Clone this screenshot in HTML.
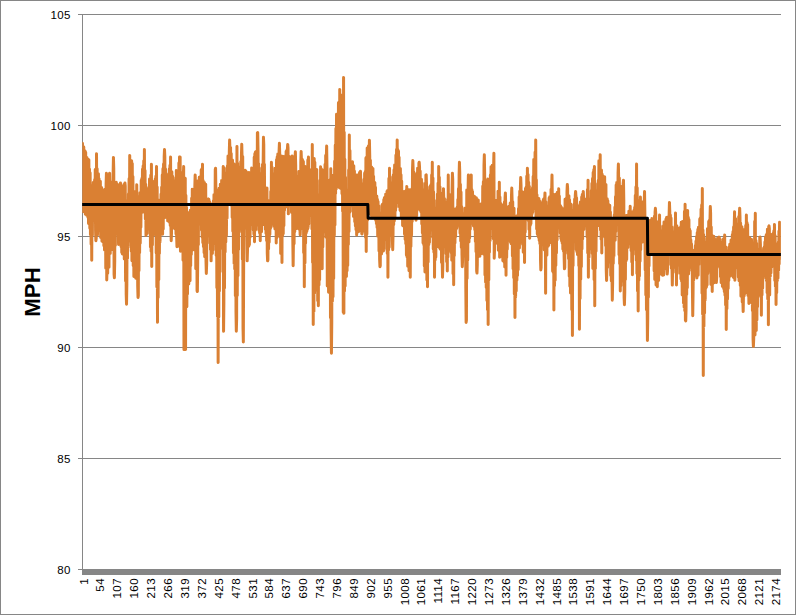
<!DOCTYPE html>
<html><head><meta charset="utf-8"><title>MPH chart</title>
<style>
html,body{margin:0;padding:0;background:#fff;}
body{width:796px;height:615px;overflow:hidden;position:relative;font-family:"Liberation Sans",sans-serif;}
#frame{position:absolute;left:0;top:0;width:794px;height:613px;border:1px solid #868686;}
svg{position:absolute;left:0;top:0;}
.yl{position:absolute;right:725.2px;width:60px;text-align:right;font-size:11.5px;letter-spacing:0.35px;line-height:14px;height:14px;color:#000;}
.xl{position:absolute;font-size:11.5px;letter-spacing:0.42px;line-height:14px;height:14px;white-space:nowrap;color:#000;transform-origin:0 0;transform:rotate(-90deg);text-align:right;width:40px;}
#title{position:absolute;font-weight:bold;font-size:22.3px;line-height:24px;height:24px;white-space:nowrap;color:#000;transform-origin:0 0;transform:rotate(-90deg);width:80px;text-align:center;}
</style></head><body>
<div id="frame"></div>
<svg width="796" height="615" viewBox="0 0 796 615">

<rect x="78" y="14" width="703" height="1" fill="#868686"/>
<rect x="78" y="125" width="703" height="1" fill="#868686"/>
<rect x="78" y="236" width="703" height="1" fill="#868686"/>
<rect x="78" y="347" width="703" height="1" fill="#868686"/>
<rect x="78" y="458" width="703" height="1" fill="#868686"/>
<rect x="78" y="569" width="703" height="1" fill="#868686"/>
<rect x="82" y="14" width="1" height="556" fill="#868686"/>
<rect x="82" y="569" width="699" height="6" fill="#868686"/>
<clipPath id="cp"><rect x="82.3" y="0" width="698.6" height="615"/></clipPath>
<polyline clip-path="url(#cp)" points="82.16,211.51 82.48,143.21 82.80,211.72 83.12,146.31 83.44,207.65 83.76,147.10 84.07,207.38 84.39,150.31 84.71,208.87 85.03,150.88 85.35,214.13 85.67,152.23 85.99,206.70 86.31,158.38 86.63,215.25 86.95,157.52 87.27,209.64 87.59,166.95 87.90,217.16 88.22,159.57 88.54,223.40 88.86,159.81 89.18,224.41 89.50,169.01 89.82,228.24 90.14,172.82 90.46,234.74 90.78,187.35 91.10,244.27 91.42,190.54 91.73,260.23 92.05,189.31 92.37,235.34 92.69,185.41 93.01,220.73 93.33,182.60 93.65,214.70 93.97,182.16 94.29,215.12 94.61,179.71 94.93,220.80 95.25,169.59 95.57,230.23 95.88,240.78 96.20,238.63 96.52,153.78 96.84,222.22 97.16,168.76 97.48,234.92 97.80,177.97 98.12,230.89 98.44,173.75 98.76,223.90 99.08,178.69 99.40,228.69 99.71,181.87 100.03,227.08 100.35,181.31 100.67,237.53 100.99,189.35 101.31,237.48 101.63,187.54 101.95,241.23 102.27,193.58 102.59,240.97 102.91,191.39 103.23,242.08 103.54,202.14 103.86,245.70 104.18,190.28 104.50,250.07 104.82,189.34 105.14,250.37 105.46,203.11 105.78,268.33 106.10,184.29 106.42,173.23 106.74,279.90 107.06,265.90 107.37,174.85 107.69,273.16 108.01,177.64 108.33,257.91 108.65,179.41 108.97,267.13 109.29,178.60 109.61,173.23 109.93,189.04 110.25,253.53 110.57,186.55 110.89,240.80 111.20,189.08 111.52,245.19 111.84,194.76 112.16,249.40 112.48,182.08 112.80,246.33 113.12,174.14 113.44,157.38 113.76,168.43 114.08,274.32 114.40,277.78 114.72,261.45 115.03,189.98 115.35,245.44 115.67,184.33 115.99,231.71 116.31,182.26 116.63,232.63 116.95,187.85 117.27,231.08 117.59,185.89 117.91,234.25 118.23,184.85 118.55,244.45 118.87,186.26 119.18,239.39 119.50,190.94 119.82,242.88 120.14,192.42 120.46,182.96 120.78,187.49 121.10,246.73 121.42,190.28 121.74,252.51 122.06,185.91 122.38,254.09 122.70,189.41 123.01,254.13 123.33,187.33 123.65,251.54 123.97,184.62 124.29,259.08 124.61,188.73 124.93,182.96 125.25,186.11 125.57,280.94 125.89,200.50 126.21,294.53 126.53,304.21 126.84,284.16 127.16,211.21 127.48,258.53 127.80,221.62 128.12,246.89 128.44,193.95 128.76,234.78 129.08,178.87 129.40,233.96 129.72,155.47 130.04,240.97 130.36,161.97 130.67,227.61 130.99,161.85 131.31,251.16 131.63,160.66 131.95,260.81 132.27,163.40 132.59,241.72 132.91,176.47 133.23,265.72 133.55,191.55 133.87,276.50 134.19,197.55 134.50,270.80 134.82,202.52 135.14,264.34 135.46,191.61 135.78,278.19 136.10,192.89 136.42,274.26 136.74,184.86 137.06,278.04 137.38,204.13 137.70,285.90 138.02,297.44 138.33,295.62 138.65,205.09 138.97,270.78 139.29,196.48 139.61,252.79 139.93,192.77 140.25,243.17 140.57,193.37 140.89,227.30 141.21,180.60 141.53,211.22 141.85,178.62 142.17,212.37 142.48,169.26 142.80,208.00 143.12,165.94 143.44,204.11 143.76,160.88 144.08,200.76 144.40,149.55 144.72,212.53 145.04,170.49 145.36,218.87 145.68,184.13 146.00,235.50 146.31,187.36 146.63,226.90 146.95,188.63 147.27,233.61 147.59,189.91 147.91,229.16 148.23,191.99 148.55,228.16 148.87,189.59 149.19,228.67 149.51,178.92 149.83,228.12 150.14,183.96 150.46,247.10 150.78,175.16 151.10,251.28 151.42,164.35 151.74,266.58 152.06,180.96 152.38,245.03 152.70,186.92 153.02,234.92 153.34,181.86 153.66,231.00 153.97,187.96 154.29,229.47 154.61,182.02 154.93,226.06 155.25,178.89 155.57,234.91 155.89,176.34 156.21,253.00 156.53,166.47 156.85,287.01 157.17,187.05 157.49,322.18 157.80,199.65 158.12,297.41 158.44,209.55 158.76,279.84 159.08,210.23 159.40,253.57 159.72,211.24 160.04,241.89 160.36,200.04 160.68,233.14 161.00,194.23 161.32,229.38 161.63,187.37 161.95,230.53 162.27,174.93 162.59,234.35 162.91,168.86 163.23,229.09 163.55,164.10 163.87,215.95 164.19,156.64 164.51,149.55 164.83,156.71 165.15,217.50 165.47,168.80 165.78,214.91 166.10,173.46 166.42,210.70 166.74,177.19 167.06,215.13 167.38,178.16 167.70,220.87 168.02,175.75 168.34,221.27 168.66,174.77 168.98,215.50 169.30,168.91 169.61,222.42 169.93,165.48 170.25,225.50 170.57,156.95 170.89,224.85 171.21,240.78 171.53,232.07 171.85,171.75 172.17,220.05 172.49,175.95 172.81,228.25 173.13,188.71 173.44,225.17 173.76,184.56 174.08,217.31 174.40,187.18 174.72,227.93 175.04,180.69 175.36,229.36 175.68,177.84 176.00,233.95 176.32,170.39 176.64,235.95 176.96,246.70 177.27,240.06 177.59,179.72 177.91,234.03 178.23,171.59 178.55,236.22 178.87,163.06 179.19,221.69 179.51,156.95 179.83,246.92 180.15,156.95 180.47,251.35 180.79,174.40 181.10,236.40 181.42,175.61 181.74,247.05 182.06,181.60 182.38,244.28 182.70,172.55 183.02,260.24 183.34,176.33 183.66,166.47 183.98,349.50 184.30,331.42 184.62,179.51 184.93,333.92 185.25,178.13 185.57,349.50 185.89,195.52 186.21,290.97 186.53,207.23 186.85,306.77 187.17,229.57 187.49,294.11 187.81,214.53 188.13,272.88 188.45,213.76 188.77,284.05 189.08,212.62 189.40,269.10 189.72,214.70 190.04,280.76 190.36,210.20 190.68,265.69 191.00,212.38 191.32,254.42 191.64,198.26 191.96,250.51 192.28,189.30 192.60,244.10 192.91,190.37 193.23,234.29 193.55,189.30 193.87,247.32 194.19,190.60 194.51,249.96 194.83,186.49 195.15,174.92 195.47,183.04 195.79,268.79 196.11,181.17 196.43,260.08 196.74,188.24 197.06,290.87 197.38,291.52 197.70,262.61 198.02,181.12 198.34,244.74 198.66,180.41 198.98,223.62 199.30,177.18 199.62,221.06 199.94,178.06 200.26,223.94 200.57,176.65 200.89,223.86 201.21,170.10 201.53,230.26 201.85,169.01 202.17,237.31 202.49,164.35 202.81,242.63 203.13,180.51 203.45,246.84 203.77,184.18 204.09,252.77 204.40,182.60 204.72,256.81 205.04,190.16 205.36,249.04 205.68,184.13 206.00,260.80 206.32,273.55 206.64,264.15 206.96,206.10 207.28,243.36 207.60,199.33 207.92,234.80 208.23,199.00 208.55,227.74 208.87,199.19 209.19,232.49 209.51,201.59 209.83,236.11 210.15,207.31 210.47,249.55 210.79,210.26 211.11,260.87 211.43,212.43 211.75,251.57 212.07,209.08 212.38,253.42 212.70,203.28 213.02,249.98 213.34,201.07 213.66,243.54 213.98,194.79 214.30,240.45 214.62,196.84 214.94,229.36 215.26,169.63 215.58,168.16 215.90,192.06 216.21,255.58 216.53,191.46 216.85,287.86 217.17,190.37 217.49,316.55 217.81,194.06 218.13,362.50 218.45,209.64 218.77,316.97 219.09,188.36 219.41,291.03 219.73,191.39 220.04,271.81 220.36,184.22 220.68,248.67 221.00,184.70 221.32,223.79 221.64,180.44 221.96,228.18 222.28,181.79 222.60,245.53 222.92,190.34 223.24,166.47 223.56,331.20 223.87,302.81 224.19,168.10 224.51,288.03 224.83,183.87 225.15,252.05 225.47,173.12 225.79,241.91 226.11,175.09 226.43,235.59 226.75,177.53 227.07,218.15 227.39,165.95 227.70,199.15 228.02,156.00 228.34,201.59 228.66,160.21 228.98,194.49 229.30,151.90 229.62,140.04 229.94,149.13 230.26,204.65 230.58,147.58 230.90,201.22 231.22,153.43 231.53,204.84 231.85,160.45 232.17,217.59 232.49,159.98 232.81,231.27 233.13,169.20 233.45,252.94 233.77,163.76 234.09,263.55 234.41,183.14 234.73,268.91 235.05,165.36 235.37,295.70 235.68,164.54 236.00,312.33 236.32,331.20 236.64,318.66 236.96,146.38 237.28,295.62 237.60,163.35 237.92,275.82 238.24,189.88 238.56,249.54 238.88,166.94 239.20,231.92 239.51,171.02 239.83,229.26 240.15,175.70 240.47,216.02 240.79,161.63 241.11,208.44 241.43,155.64 241.75,144.27 242.07,157.57 242.39,259.26 242.71,156.56 243.03,328.53 243.34,342.00 243.66,262.70 243.98,177.00 244.30,209.63 244.62,172.10 244.94,205.80 245.26,170.15 245.58,215.08 245.90,170.89 246.22,228.30 246.54,173.75 246.86,228.30 247.17,260.87 247.49,251.03 247.81,172.63 248.13,245.94 248.45,190.88 248.77,246.24 249.09,172.61 249.41,244.67 249.73,187.45 250.05,237.29 250.37,177.67 250.69,224.55 251.00,173.95 251.32,220.20 251.64,167.95 251.96,220.11 252.28,171.63 252.60,219.88 252.92,169.99 253.24,229.93 253.56,176.12 253.88,234.27 254.20,157.24 254.52,241.84 254.83,153.78 255.15,230.47 255.47,152.10 255.79,229.62 256.11,151.60 256.43,225.12 256.75,156.58 257.07,215.29 257.39,132.82 257.71,132.64 258.03,150.25 258.35,221.67 258.67,163.71 258.98,230.41 259.30,173.31 259.62,233.07 259.94,185.98 260.26,240.78 260.58,181.98 260.90,231.88 261.22,180.00 261.54,231.64 261.86,167.96 262.18,218.03 262.50,164.57 262.81,222.50 263.13,165.43 263.45,137.29 263.77,144.43 264.09,224.65 264.41,164.22 264.73,221.08 265.05,187.86 265.37,229.37 265.69,190.54 266.01,233.61 266.33,194.27 266.64,240.68 266.96,188.07 267.28,253.47 267.60,260.87 267.92,260.02 268.24,200.46 268.56,248.93 268.88,207.29 269.20,242.15 269.52,208.52 269.84,234.48 270.16,208.12 270.47,228.44 270.79,191.52 271.11,226.91 271.43,162.24 271.75,222.07 272.07,167.17 272.39,222.23 272.71,173.48 273.03,218.98 273.35,174.66 273.67,224.32 273.99,177.20 274.30,226.53 274.62,185.45 274.94,229.08 275.26,168.37 275.58,217.35 275.90,177.54 276.22,242.90 276.54,159.86 276.86,237.68 277.18,157.09 277.50,234.41 277.82,154.09 278.13,233.42 278.45,154.85 278.77,215.36 279.09,151.01 279.41,143.21 279.73,153.74 280.05,236.94 280.37,155.28 280.69,253.55 281.01,158.69 281.33,253.35 281.65,158.53 281.97,262.50 282.28,157.18 282.60,235.44 282.92,156.33 283.24,233.72 283.56,160.08 283.88,225.68 284.20,160.92 284.52,210.14 284.84,158.58 285.16,197.86 285.48,155.93 285.80,207.08 286.11,151.55 286.43,200.00 286.75,150.43 287.07,204.79 287.39,149.04 287.71,144.44 288.03,147.89 288.35,213.87 288.67,159.84 288.99,206.01 289.31,163.59 289.63,205.37 289.94,156.76 290.26,205.50 290.58,157.97 290.90,200.07 291.22,157.32 291.54,212.53 291.86,160.31 292.18,156.07 292.50,168.07 292.82,241.21 293.14,265.67 293.46,241.32 293.77,175.83 294.09,243.64 294.41,184.13 294.73,231.77 295.05,157.29 295.37,151.84 295.69,165.14 296.01,224.49 296.33,176.15 296.65,228.54 296.97,177.87 297.29,222.35 297.60,177.61 297.92,225.87 298.24,176.79 298.56,228.83 298.88,171.60 299.20,229.22 299.52,174.20 299.84,225.24 300.16,235.01 300.48,226.00 300.80,162.47 301.12,151.42 301.43,159.41 301.75,216.16 302.07,159.02 302.39,226.54 302.71,160.25 303.03,229.01 303.35,161.45 303.67,252.80 303.99,166.24 304.31,286.81 304.63,184.61 304.95,263.09 305.27,166.59 305.58,243.28 305.90,170.96 306.22,233.02 306.54,167.68 306.86,231.19 307.18,173.06 307.50,229.33 307.82,160.07 308.14,227.63 308.46,157.12 308.78,224.01 309.10,169.09 309.41,215.69 309.73,178.31 310.05,205.87 310.37,183.02 310.69,201.95 311.01,176.65 311.33,207.36 311.65,170.31 311.97,229.07 312.29,144.44 312.61,262.57 312.93,159.46 313.24,324.40 313.56,196.97 313.88,311.55 314.20,158.40 314.52,293.21 314.84,162.31 315.16,276.10 315.48,175.79 315.80,289.94 316.12,206.99 316.44,284.19 316.76,169.44 317.07,286.45 317.39,207.75 317.71,300.80 318.03,199.91 318.35,305.84 318.67,206.34 318.99,285.10 319.31,194.73 319.63,279.76 319.95,180.42 320.27,267.30 320.59,166.64 320.90,263.82 321.22,168.81 321.54,262.11 321.86,169.39 322.18,268.84 322.50,182.98 322.82,247.08 323.14,175.84 323.46,230.14 323.78,170.07 324.10,215.09 324.42,173.07 324.73,221.87 325.05,164.52 325.37,232.04 325.69,155.44 326.01,237.13 326.33,157.23 326.65,145.92 326.97,167.58 327.29,285.91 327.61,180.10 327.93,284.20 328.25,189.31 328.57,292.27 328.88,206.72 329.20,288.37 329.52,186.94 329.84,287.30 330.16,179.72 330.48,317.63 330.80,168.75 331.12,329.26 331.44,353.30 331.76,323.23 332.08,176.00 332.40,301.37 332.71,186.07 333.03,296.68 333.35,175.36 333.67,278.38 333.99,176.80 334.31,235.28 334.63,161.33 334.95,225.09 335.27,145.24 335.59,193.42 335.91,128.61 336.23,188.93 336.54,114.33 336.86,187.02 337.18,119.62 337.50,182.96 337.82,114.66 338.14,182.29 338.46,102.68 338.78,184.78 339.10,102.21 339.42,187.69 339.74,89.47 340.06,183.18 340.37,106.49 340.69,188.44 341.01,95.57 341.33,176.60 341.65,95.13 341.97,193.77 342.29,124.61 342.61,211.35 342.93,120.56 343.25,312.32 343.57,77.42 343.89,313.24 344.20,132.30 344.52,291.04 344.84,159.23 345.16,286.12 345.48,177.17 345.80,269.12 346.12,189.70 346.44,276.51 346.76,202.39 347.08,270.71 347.40,191.39 347.72,265.44 348.03,192.86 348.35,244.51 348.67,169.92 348.99,231.44 349.31,134.92 349.63,212.54 349.95,150.51 350.27,199.00 350.59,162.53 350.91,202.58 351.23,162.34 351.55,196.26 351.87,170.09 352.18,206.10 352.50,161.83 352.82,211.58 353.14,169.69 353.46,216.52 353.78,165.72 354.10,213.58 354.42,171.05 354.74,221.81 355.06,183.75 355.38,226.10 355.70,176.26 356.01,229.78 356.33,177.27 356.65,235.01 356.97,175.00 357.29,228.47 357.61,175.17 357.93,228.60 358.25,176.83 358.57,231.64 358.89,182.15 359.21,229.24 359.53,172.53 359.84,225.10 360.16,176.11 360.48,171.29 360.80,183.30 361.12,230.79 361.44,186.40 361.76,233.75 362.08,233.95 362.40,230.56 362.72,191.74 363.04,226.75 363.36,183.76 363.67,227.67 363.99,179.49 364.31,227.60 364.63,173.27 364.95,231.57 365.27,171.84 365.59,237.38 365.91,158.00 366.23,251.50 366.55,157.13 366.87,234.32 367.19,148.05 367.50,220.20 367.82,154.19 368.14,212.95 368.46,145.99 368.78,211.44 369.10,159.19 369.42,140.21 369.74,155.98 370.06,213.77 370.38,160.13 370.70,204.93 371.02,176.57 371.33,215.79 371.65,167.04 371.97,218.10 372.29,169.76 372.61,207.87 372.93,168.56 373.25,211.26 373.57,176.19 373.89,212.08 374.21,182.01 374.53,218.32 374.85,182.56 375.17,218.27 375.48,187.35 375.80,220.57 376.12,196.99 376.44,223.82 376.76,196.10 377.08,227.59 377.40,199.27 377.72,236.32 378.04,201.60 378.36,236.62 378.68,205.70 379.00,251.02 379.31,213.46 379.63,259.35 379.95,266.72 380.27,265.80 380.59,214.06 380.91,246.75 381.23,213.09 381.55,253.89 381.87,205.40 382.19,249.21 382.51,204.36 382.83,247.01 383.14,203.63 383.46,250.92 383.78,199.69 384.10,249.38 384.42,197.80 384.74,236.38 385.06,197.27 385.38,237.63 385.70,194.13 386.02,238.02 386.34,195.89 386.66,239.77 386.97,191.50 387.29,253.53 387.61,190.50 387.93,277.29 388.25,201.43 388.57,250.00 388.89,178.47 389.21,247.32 389.53,168.16 389.85,233.45 390.17,176.79 390.49,229.07 390.80,182.49 391.12,235.34 391.44,184.15 391.76,235.38 392.08,184.53 392.40,240.47 392.72,249.81 393.04,234.57 393.36,174.88 393.68,224.75 394.00,169.91 394.32,221.11 394.63,165.02 394.95,216.95 395.27,169.37 395.59,210.39 395.91,155.33 396.23,207.19 396.55,149.62 396.87,201.62 397.19,140.04 397.51,196.44 397.83,149.39 398.15,200.52 398.47,150.99 398.78,202.77 399.10,157.27 399.42,207.10 399.74,170.27 400.06,210.26 400.38,168.51 400.70,211.36 401.02,174.69 401.34,217.31 401.66,180.99 401.98,214.71 402.30,196.11 402.61,225.60 402.93,198.40 403.25,226.06 403.57,202.31 403.89,222.75 404.21,191.61 404.53,234.21 404.85,191.73 405.17,239.61 405.49,201.96 405.81,243.78 406.13,190.49 406.44,255.13 406.76,186.55 407.08,256.94 407.40,191.64 407.72,266.28 408.04,192.82 408.36,252.26 408.68,189.75 409.00,270.85 409.32,195.96 409.64,267.05 409.96,189.73 410.27,277.29 410.59,190.10 410.91,246.58 411.23,199.90 411.55,235.23 411.87,189.09 412.19,221.60 412.51,169.67 412.83,160.55 413.15,169.12 413.47,216.88 413.79,172.01 414.10,215.76 414.42,176.41 414.74,211.57 415.06,177.30 415.38,208.33 415.70,181.35 416.02,220.21 416.34,174.58 416.66,215.69 416.98,173.22 417.30,208.62 417.62,168.18 417.93,207.53 418.25,171.82 418.57,207.71 418.89,163.30 419.21,162.24 419.53,166.61 419.85,210.27 420.17,170.90 420.49,206.45 420.81,180.49 421.13,212.37 421.45,179.37 421.77,224.02 422.08,182.72 422.40,232.92 422.72,189.48 423.04,242.87 423.36,196.06 423.68,244.63 424.00,191.01 424.32,266.05 424.64,190.36 424.96,271.95 425.28,183.51 425.60,267.04 425.91,175.08 426.23,174.92 426.55,185.50 426.87,279.89 427.19,196.54 427.51,286.81 427.83,190.87 428.15,261.96 428.47,193.26 428.79,244.82 429.11,196.97 429.43,242.37 429.74,186.90 430.06,225.40 430.38,185.99 430.70,224.98 431.02,184.72 431.34,230.03 431.66,174.92 431.98,226.86 432.30,162.24 432.62,237.35 432.94,178.02 433.26,248.89 433.57,191.85 433.89,252.18 434.21,200.29 434.53,277.29 434.85,217.73 435.17,259.94 435.49,212.24 435.81,257.15 436.13,213.04 436.45,246.40 436.77,208.08 437.09,243.46 437.40,194.13 437.72,246.60 438.04,183.20 438.36,246.25 438.68,166.47 439.00,238.92 439.32,177.21 439.64,248.13 439.96,186.66 440.28,249.19 440.60,193.86 440.92,244.21 441.23,193.26 441.55,262.52 441.87,201.05 442.19,260.21 442.51,277.29 442.83,265.31 443.15,196.73 443.47,188.67 443.79,198.95 444.11,246.01 444.43,198.43 444.75,246.23 445.07,202.14 445.38,246.98 445.70,213.89 446.02,253.83 446.34,220.37 446.66,261.80 446.98,216.14 447.30,270.95 447.62,199.55 447.94,256.98 448.26,174.92 448.58,250.59 448.90,194.85 449.21,240.40 449.53,194.45 449.85,241.72 450.17,199.64 450.49,245.71 450.81,202.82 451.13,252.68 451.45,206.82 451.77,260.34 452.09,190.06 452.41,173.23 452.73,179.22 453.04,273.74 453.36,211.90 453.68,284.69 454.00,209.43 454.32,255.69 454.64,219.07 454.96,243.01 455.28,208.97 455.60,236.81 455.92,213.13 456.24,229.20 456.56,209.96 456.87,227.97 457.19,207.26 457.51,225.58 457.83,199.63 458.15,216.83 458.47,188.84 458.79,222.60 459.11,175.00 459.43,162.24 459.75,172.12 460.07,233.33 460.39,184.25 460.70,241.00 461.02,192.10 461.34,247.39 461.66,206.59 461.98,254.57 462.30,266.72 462.62,259.52 462.94,213.57 463.26,256.21 463.58,219.15 463.90,255.46 464.22,218.83 464.53,248.87 464.85,208.16 465.17,254.97 465.49,208.22 465.81,288.06 466.13,322.40 466.45,319.74 466.77,190.10 467.09,278.58 467.41,198.21 467.73,260.03 468.05,190.89 468.37,174.92 468.68,179.33 469.00,241.93 469.32,176.69 469.64,237.92 469.96,178.98 470.28,229.23 470.60,180.03 470.92,221.51 471.24,174.92 471.56,223.35 471.88,189.62 472.20,223.35 472.51,191.59 472.83,223.14 473.15,195.89 473.47,225.88 473.79,199.07 474.11,226.60 474.43,196.23 474.75,229.72 475.07,198.79 475.39,241.50 475.71,203.04 476.03,251.75 476.34,197.83 476.66,270.92 476.98,273.07 477.30,264.71 477.62,202.29 477.94,257.00 478.26,200.11 478.58,254.69 478.90,216.14 479.22,247.37 479.54,204.22 479.86,256.15 480.17,204.57 480.49,253.02 480.81,205.97 481.13,248.69 481.45,203.65 481.77,253.41 482.09,204.27 482.41,253.15 482.73,186.14 483.05,253.57 483.37,181.85 483.69,254.15 484.00,165.19 484.32,154.84 484.64,172.38 484.96,274.90 485.28,188.62 485.60,282.24 485.92,183.92 486.24,287.50 486.56,184.26 486.88,300.54 487.20,180.58 487.52,309.82 487.83,179.06 488.15,324.40 488.47,188.12 488.79,280.03 489.11,182.30 489.43,252.23 489.75,183.41 490.07,240.62 490.39,174.90 490.71,210.06 491.03,166.66 491.35,218.49 491.67,171.23 491.98,224.52 492.30,165.29 492.62,228.82 492.94,171.05 493.26,238.82 493.58,168.06 493.90,153.36 494.22,258.27 494.54,249.44 494.86,210.69 495.18,242.91 495.50,208.14 495.81,239.64 496.13,203.73 496.45,238.28 496.77,200.18 497.09,238.63 497.41,201.26 497.73,243.96 498.05,191.23 498.37,250.29 498.69,192.03 499.01,250.83 499.33,182.32 499.64,257.13 499.96,197.10 500.28,250.47 500.60,203.13 500.92,249.18 501.24,213.09 501.56,256.48 501.88,207.64 502.20,251.05 502.52,205.03 502.84,260.70 503.16,209.82 503.47,260.05 503.79,210.71 504.11,262.17 504.43,202.07 504.75,266.96 505.07,197.25 505.39,192.90 505.71,204.50 506.03,275.18 506.35,207.36 506.67,257.52 506.99,208.03 507.30,249.35 507.62,209.19 507.94,239.54 508.26,207.73 508.58,238.10 508.90,206.14 509.22,236.24 509.54,206.55 509.86,240.39 510.18,203.01 510.50,242.27 510.82,206.53 511.13,243.68 511.45,196.82 511.77,188.03 512.09,199.64 512.41,256.08 512.73,201.84 513.05,268.66 513.37,209.76 513.69,277.66 514.01,208.31 514.33,293.87 514.65,221.45 514.97,317.40 515.28,215.99 515.60,296.88 515.92,216.40 516.24,290.99 516.56,216.55 516.88,280.29 517.20,223.79 517.52,275.44 517.84,214.89 518.16,269.84 518.48,208.70 518.80,245.95 519.11,196.94 519.43,247.98 519.75,191.16 520.07,242.23 520.39,187.61 520.71,177.46 521.03,185.41 521.35,240.93 521.67,191.75 521.99,240.95 522.31,193.72 522.63,244.38 522.94,191.96 523.26,252.28 523.58,197.36 523.90,244.55 524.22,197.90 524.54,262.50 524.86,195.13 525.18,232.23 525.50,188.48 525.82,216.69 526.14,187.25 526.46,218.36 526.77,176.37 527.09,219.06 527.41,168.16 527.73,218.04 528.05,174.39 528.37,220.85 528.69,182.34 529.01,229.51 529.33,186.34 529.65,238.18 529.97,193.47 530.29,225.42 530.60,190.12 530.92,223.70 531.24,196.42 531.56,218.28 531.88,192.08 532.20,213.71 532.52,187.78 532.84,212.05 533.16,176.49 533.48,205.15 533.80,159.49 534.12,205.88 534.43,163.59 534.75,202.77 535.07,152.24 535.39,208.62 535.71,140.04 536.03,218.13 536.35,179.78 536.67,228.98 536.99,194.81 537.31,234.05 537.63,198.23 537.95,235.92 538.27,198.22 538.58,237.43 538.90,198.58 539.22,240.55 539.54,200.76 539.86,243.62 540.18,202.71 540.50,259.52 540.82,269.90 541.14,267.50 541.46,209.22 541.78,244.90 542.10,203.77 542.41,239.14 542.73,201.60 543.05,231.01 543.37,199.58 543.69,236.57 544.01,198.70 544.33,249.96 544.65,200.08 544.97,192.90 545.29,211.06 545.61,293.15 545.93,201.82 546.24,254.30 546.56,205.65 546.88,255.20 547.20,209.25 547.52,245.74 547.84,206.01 548.16,246.35 548.48,208.18 548.80,245.12 549.12,198.05 549.44,238.57 549.76,196.71 550.07,239.97 550.39,197.70 550.71,237.41 551.03,189.60 551.35,242.68 551.67,189.95 551.99,174.92 552.31,197.30 552.63,271.16 552.95,199.97 553.27,272.53 553.59,194.37 553.90,310.06 554.22,201.55 554.54,285.72 554.86,195.52 555.18,280.12 555.50,198.06 555.82,265.49 556.14,193.99 556.46,253.01 556.78,193.89 557.10,239.95 557.42,192.21 557.73,227.40 558.05,192.55 558.37,219.53 558.69,188.67 559.01,222.59 559.33,196.07 559.65,227.93 559.97,205.00 560.29,233.11 560.61,206.07 560.93,238.70 561.25,207.07 561.57,240.94 561.88,211.31 562.20,243.19 562.52,208.43 562.84,249.12 563.16,217.85 563.48,251.35 563.80,220.79 564.12,256.45 564.44,268.84 564.76,267.41 565.08,199.25 565.40,250.09 565.71,201.29 566.03,236.83 566.35,198.69 566.67,233.62 566.99,191.86 567.31,184.44 567.63,188.26 567.95,253.54 568.27,196.22 568.59,258.79 568.91,195.74 569.23,276.35 569.54,199.86 569.86,286.30 570.18,207.18 570.50,292.92 570.82,204.03 571.14,282.56 571.46,210.42 571.78,309.83 572.10,227.11 572.42,335.50 572.74,214.68 573.06,265.84 573.37,210.25 573.69,222.28 574.01,204.58 574.33,220.89 574.65,199.14 574.97,227.29 575.29,195.13 575.61,191.42 575.93,196.03 576.25,249.82 576.57,197.81 576.89,251.80 577.20,204.49 577.52,254.62 577.84,210.36 578.16,254.63 578.48,206.37 578.80,265.86 579.12,214.17 579.44,329.20 579.76,216.08 580.08,298.56 580.40,202.03 580.72,279.28 581.03,202.75 581.35,266.64 581.67,197.04 581.99,249.00 582.31,194.39 582.63,239.10 582.95,201.75 583.27,191.42 583.59,197.68 583.91,229.40 584.23,202.37 584.55,225.86 584.87,200.61 585.18,222.91 585.50,202.21 585.82,222.60 586.14,199.11 586.46,225.55 586.78,199.98 587.10,237.09 587.42,189.78 587.74,252.97 588.06,180.21 588.38,277.29 588.70,200.20 589.01,257.36 589.33,198.97 589.65,249.04 589.97,199.05 590.29,235.80 590.61,203.82 590.93,234.98 591.25,190.82 591.57,242.01 591.89,183.49 592.21,253.50 592.53,178.39 592.84,268.41 593.16,172.57 593.48,264.98 593.80,169.70 594.12,279.64 594.44,166.47 594.76,305.84 595.08,191.09 595.40,268.43 595.72,190.68 596.04,251.36 596.36,197.79 596.67,236.29 596.99,195.41 597.31,224.88 597.63,183.84 597.95,225.72 598.27,180.48 598.59,223.50 598.91,160.84 599.23,214.61 599.55,164.20 599.87,206.88 600.19,154.84 600.50,230.06 600.82,181.46 601.14,239.31 601.46,169.97 601.78,252.98 602.10,173.96 602.42,236.44 602.74,175.85 603.06,223.99 603.38,181.56 603.70,217.87 604.02,183.17 604.33,227.55 604.65,176.75 604.97,237.15 605.29,185.08 605.61,245.63 605.93,184.47 606.25,269.61 606.57,280.47 606.89,268.15 607.21,198.86 607.53,267.60 607.85,200.80 608.17,260.61 608.48,207.03 608.80,255.96 609.12,204.88 609.44,262.07 609.76,205.17 610.08,255.56 610.40,212.05 610.72,275.57 611.04,220.60 611.36,281.07 611.68,219.61 612.00,277.85 612.31,300.13 612.63,282.61 612.95,219.86 613.27,263.50 613.59,221.22 613.91,256.13 614.23,215.11 614.55,240.82 614.87,207.34 615.19,240.19 615.51,196.83 615.83,231.50 616.14,184.95 616.46,223.21 616.78,182.43 617.10,224.27 617.42,184.84 617.74,223.60 618.06,173.17 618.38,163.93 618.70,180.80 619.02,254.67 619.34,178.01 619.66,263.70 619.97,196.76 620.29,291.04 620.61,204.82 620.93,285.80 621.25,186.60 621.57,269.17 621.89,188.38 622.21,280.62 622.53,198.07 622.85,280.88 623.17,183.57 623.49,180.21 623.80,200.01 624.12,297.42 624.44,304.78 624.76,292.37 625.08,219.56 625.40,279.49 625.72,215.65 626.04,260.98 626.36,215.48 626.68,259.43 627.00,215.50 627.32,247.52 627.63,216.96 627.95,247.60 628.27,214.99 628.59,241.99 628.91,211.13 629.23,241.46 629.55,210.91 629.87,240.01 630.19,206.21 630.51,244.06 630.83,212.31 631.15,250.69 631.47,212.96 631.78,262.09 632.10,212.32 632.42,274.76 632.74,211.77 633.06,254.44 633.38,214.83 633.70,249.18 634.02,210.29 634.34,240.67 634.66,207.45 634.98,242.59 635.30,195.55 635.61,235.79 635.93,186.90 636.25,260.22 636.57,163.93 636.89,273.39 637.21,187.85 637.53,291.08 637.85,207.42 638.17,311.12 638.49,205.51 638.81,280.22 639.13,219.04 639.44,276.11 639.76,200.43 640.08,261.17 640.40,197.12 640.72,249.85 641.04,201.79 641.36,239.82 641.68,206.37 642.00,236.21 642.32,206.87 642.64,242.09 642.96,203.63 643.27,238.58 643.59,201.41 643.91,237.07 644.23,202.42 644.55,191.42 644.87,212.65 645.19,269.97 645.51,229.49 645.83,295.11 646.15,226.06 646.47,309.78 646.79,221.41 647.10,295.15 647.42,340.50 647.74,318.78 648.06,223.81 648.38,297.22 648.70,227.19 649.02,265.94 649.34,225.88 649.66,254.62 649.98,220.55 650.30,253.65 650.62,224.38 650.93,248.30 651.25,226.64 651.57,252.66 651.89,218.60 652.21,254.44 652.53,226.40 652.85,253.58 653.17,220.11 653.49,252.21 653.81,219.83 654.13,270.87 654.45,216.21 654.77,279.39 655.08,212.09 655.40,208.33 655.72,213.68 656.04,285.09 656.36,220.91 656.68,285.41 657.00,221.99 657.32,286.67 657.64,225.24 657.96,271.06 658.28,223.07 658.60,280.46 658.91,232.26 659.23,269.74 659.55,215.09 659.87,274.25 660.19,225.83 660.51,267.71 660.83,231.76 661.15,273.96 661.47,234.29 661.79,273.58 662.11,230.74 662.43,275.23 662.74,232.70 663.06,275.13 663.38,225.96 663.70,275.06 664.02,221.98 664.34,269.12 664.66,222.22 664.98,255.00 665.30,222.08 665.62,260.19 665.94,219.35 666.26,265.58 666.57,217.41 666.89,268.49 667.21,274.06 667.53,270.53 667.85,217.11 668.17,264.71 668.49,219.57 668.81,248.04 669.13,214.22 669.45,202.41 669.77,211.01 670.09,253.04 670.40,215.01 670.72,251.33 671.04,217.97 671.36,268.36 671.68,226.82 672.00,268.80 672.32,285.11 672.64,268.60 672.96,234.81 673.28,267.47 673.60,235.98 673.92,255.90 674.23,231.64 674.55,256.15 674.87,226.74 675.19,255.86 675.51,212.98 675.83,272.59 676.15,225.26 676.47,285.11 676.79,225.64 677.11,273.79 677.43,234.24 677.75,265.21 678.07,233.01 678.38,260.99 678.70,229.74 679.02,261.28 679.34,228.04 679.66,262.23 679.98,232.70 680.30,273.38 680.62,227.07 680.94,278.88 681.26,222.26 681.58,281.32 681.90,223.74 682.21,295.01 682.53,221.42 682.85,293.97 683.17,222.73 683.49,302.90 683.81,222.46 684.13,307.24 684.45,211.49 684.77,310.80 685.09,204.35 685.41,320.18 685.73,320.87 686.04,309.74 686.36,215.80 686.68,294.57 687.00,223.13 687.32,287.84 687.64,210.53 687.96,274.05 688.28,217.35 688.60,274.05 688.92,219.60 689.24,267.57 689.56,229.11 689.87,261.77 690.19,230.75 690.51,255.25 690.83,239.73 691.15,255.50 691.47,243.74 691.79,270.79 692.11,249.90 692.43,289.89 692.75,315.67 693.07,293.23 693.39,259.20 693.70,279.86 694.02,254.02 694.34,275.44 694.66,249.99 694.98,271.44 695.30,245.85 695.62,273.59 695.94,241.25 696.26,272.89 696.58,236.71 696.90,277.96 697.22,232.78 697.53,273.70 697.85,229.54 698.17,275.18 698.49,227.14 698.81,264.62 699.13,228.63 699.45,253.04 699.77,219.08 700.09,253.77 700.41,218.02 700.73,248.91 701.05,209.29 701.37,255.06 701.68,205.00 702.00,293.35 702.32,188.50 702.64,314.23 702.96,229.92 703.28,375.40 703.60,234.61 703.92,326.31 704.24,241.77 704.56,313.05 704.88,248.42 705.20,299.88 705.51,247.08 705.83,288.14 706.15,244.80 706.47,287.01 706.79,237.91 707.11,284.96 707.43,228.80 707.75,273.78 708.07,233.05 708.39,270.40 708.71,221.55 709.03,270.98 709.34,220.54 709.66,265.97 709.98,220.62 710.30,206.47 710.62,213.39 710.94,284.55 711.26,226.88 711.58,271.24 711.90,235.34 712.22,291.61 712.54,244.72 712.86,283.74 713.17,242.83 713.49,279.48 713.81,236.30 714.13,272.11 714.45,238.15 714.77,282.49 715.09,241.07 715.41,279.58 715.73,240.38 716.05,280.84 716.37,282.51 716.69,277.71 717.00,239.77 717.32,265.76 717.64,238.12 717.96,260.34 718.28,238.55 718.60,261.38 718.92,238.90 719.24,237.12 719.56,243.09 719.88,267.38 720.20,239.19 720.52,276.77 720.83,241.98 721.15,282.62 721.47,243.32 721.79,276.49 722.11,242.93 722.43,286.57 722.75,242.14 723.07,285.77 723.39,238.97 723.71,288.68 724.03,238.43 724.35,291.86 724.67,235.01 724.98,295.16 725.30,246.65 725.62,304.89 725.94,246.91 726.26,329.56 726.58,256.20 726.90,308.75 727.22,251.15 727.54,299.03 727.86,251.49 728.18,288.56 728.50,250.77 728.81,280.45 729.13,247.10 729.45,276.07 729.77,244.30 730.09,276.14 730.41,243.99 730.73,272.73 731.05,240.02 731.37,275.37 731.69,241.89 732.01,272.10 732.33,234.69 732.64,273.91 732.96,231.85 733.28,277.12 733.60,226.89 733.92,277.97 734.24,225.15 734.56,211.75 734.88,280.30 735.20,264.38 735.52,218.42 735.84,258.96 736.16,223.72 736.47,255.43 736.79,224.81 737.11,260.61 737.43,234.75 737.75,268.34 738.07,227.44 738.39,277.19 738.71,216.69 739.03,280.64 739.35,214.53 739.67,208.16 739.99,216.73 740.30,285.58 740.62,223.09 740.94,296.33 741.26,226.40 741.58,290.79 741.90,226.64 742.22,302.01 742.54,229.42 742.86,301.26 743.18,311.59 743.50,293.67 743.82,232.92 744.13,296.10 744.45,229.55 744.77,293.76 745.09,231.32 745.41,288.59 745.73,225.58 746.05,285.98 746.37,214.92 746.69,286.90 747.01,222.42 747.33,292.83 747.65,224.52 747.97,295.56 748.28,236.87 748.60,281.62 748.92,303.55 749.24,296.93 749.56,237.47 749.88,294.01 750.20,249.29 750.52,288.50 750.84,241.39 751.16,286.86 751.48,239.19 751.80,303.06 752.11,242.46 752.43,310.76 752.75,242.69 753.07,339.07 753.39,346.47 753.71,338.58 754.03,248.57 754.35,328.65 754.67,221.59 754.99,334.89 755.31,213.23 755.63,326.72 755.94,240.39 756.26,330.56 756.58,243.31 756.90,320.06 757.22,255.69 757.54,306.76 757.86,261.39 758.18,296.86 758.50,249.62 758.82,282.46 759.14,249.39 759.46,289.67 759.77,237.24 760.09,237.12 760.41,244.30 760.73,294.85 761.05,250.77 761.37,315.18 761.69,255.42 762.01,294.95 762.33,250.68 762.65,288.22 762.97,251.73 763.29,275.83 763.60,248.16 763.92,263.81 764.24,246.99 764.56,265.75 764.88,242.08 765.20,271.82 765.52,237.29 765.84,278.30 766.16,235.23 766.48,280.72 766.80,233.95 767.12,292.83 767.43,229.17 767.75,299.11 768.07,231.27 768.39,324.69 768.71,226.60 769.03,225.92 769.35,228.62 769.67,295.11 769.99,235.32 770.31,276.33 770.63,234.34 770.95,273.03 771.27,235.83 771.58,267.43 771.90,238.94 772.22,264.22 772.54,242.91 772.86,262.76 773.18,233.39 773.50,263.75 773.82,231.00 774.14,266.27 774.46,224.44 774.78,280.38 775.10,235.42 775.41,286.42 775.73,243.95 776.05,304.61 776.37,256.15 776.69,292.64 777.01,245.22 777.33,280.76 777.65,245.55 777.97,278.36 778.29,242.28 778.61,270.28 778.93,231.35 779.24,263.99 779.56,222.32 779.88,258.63 780.20,237.65 780.52,254.22 780.84,242.10" fill="none" stroke="#DA8033" stroke-width="3" stroke-linejoin="round" stroke-linecap="butt"/>
<path d="M82.16,204.60 L367.82,204.60 L368.14,218.30 L647.42,218.30 L647.74,254.40 L780.84,254.40" fill="none" stroke="#000" stroke-width="3" stroke-linejoin="round" stroke-linecap="butt"/>
</svg>
<div class="yl" style="top:8.3px">105</div>
<div class="yl" style="top:119.3px">100</div>
<div class="yl" style="top:230.3px">95</div>
<div class="yl" style="top:341.3px">90</div>
<div class="yl" style="top:452.3px">85</div>
<div class="yl" style="top:563.3px">80</div>
<div class="xl" style="left:76.60px;top:617.6px">1</div>
<div class="xl" style="left:93.49px;top:617.6px">54</div>
<div class="xl" style="left:110.38px;top:617.6px">107</div>
<div class="xl" style="left:127.27px;top:617.6px">160</div>
<div class="xl" style="left:144.17px;top:617.6px">213</div>
<div class="xl" style="left:161.06px;top:617.6px">266</div>
<div class="xl" style="left:177.95px;top:617.6px">319</div>
<div class="xl" style="left:194.84px;top:617.6px">372</div>
<div class="xl" style="left:211.73px;top:617.6px">425</div>
<div class="xl" style="left:228.62px;top:617.6px">478</div>
<div class="xl" style="left:245.52px;top:617.6px">531</div>
<div class="xl" style="left:262.41px;top:617.6px">584</div>
<div class="xl" style="left:279.30px;top:617.6px">637</div>
<div class="xl" style="left:296.19px;top:617.6px">690</div>
<div class="xl" style="left:313.08px;top:617.6px">743</div>
<div class="xl" style="left:329.97px;top:617.6px">796</div>
<div class="xl" style="left:346.87px;top:617.6px">849</div>
<div class="xl" style="left:363.76px;top:617.6px">902</div>
<div class="xl" style="left:380.65px;top:617.6px">955</div>
<div class="xl" style="left:397.54px;top:617.6px">1008</div>
<div class="xl" style="left:414.43px;top:617.6px">1061</div>
<div class="xl" style="left:431.32px;top:617.6px">1114</div>
<div class="xl" style="left:448.22px;top:617.6px">1167</div>
<div class="xl" style="left:465.11px;top:617.6px">1220</div>
<div class="xl" style="left:482.00px;top:617.6px">1273</div>
<div class="xl" style="left:498.89px;top:617.6px">1326</div>
<div class="xl" style="left:515.78px;top:617.6px">1379</div>
<div class="xl" style="left:532.67px;top:617.6px">1432</div>
<div class="xl" style="left:549.57px;top:617.6px">1485</div>
<div class="xl" style="left:566.46px;top:617.6px">1538</div>
<div class="xl" style="left:583.35px;top:617.6px">1591</div>
<div class="xl" style="left:600.24px;top:617.6px">1644</div>
<div class="xl" style="left:617.13px;top:617.6px">1697</div>
<div class="xl" style="left:634.02px;top:617.6px">1750</div>
<div class="xl" style="left:650.92px;top:617.6px">1803</div>
<div class="xl" style="left:667.81px;top:617.6px">1856</div>
<div class="xl" style="left:684.70px;top:617.6px">1909</div>
<div class="xl" style="left:701.59px;top:617.6px">1962</div>
<div class="xl" style="left:718.48px;top:617.6px">2015</div>
<div class="xl" style="left:735.37px;top:617.6px">2068</div>
<div class="xl" style="left:752.27px;top:617.6px">2121</div>
<div class="xl" style="left:769.16px;top:617.6px">2174</div>
<div id="title" style="left:20.5px;top:332px">MPH</div>
</body></html>
